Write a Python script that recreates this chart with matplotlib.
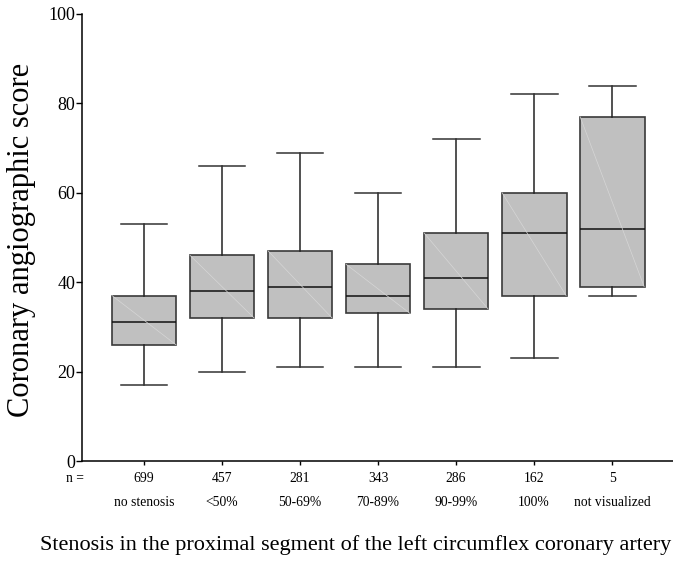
import matplotlib.pyplot as plt
import matplotlib.transforms as mtransforms

plt.rcParams['font.family'] = ['Liberation Serif', 'DejaVu Serif']

# box statistics: whisker low, Q1, median, Q3, whisker high
categories = ['no stenosis', '<50%', '50-69%', '70-89%', '90-99%', '100%', 'not visualized']
counts = ['699', '457', '281', '343', '286', '162', '5']
whislo = [17, 20, 21, 21, 21, 23, 37]
q1 = [26, 32, 32, 33, 34, 37, 39]
med = [31, 38, 39, 37, 41, 51, 52]
q3 = [37, 46, 47, 44, 51, 60, 77]
whishi = [53, 66, 69, 60, 72, 82, 84]
yticks = [0, 20, 40, 60, 80, 100]

W, H = 673, 563
fig = plt.figure(figsize=(W / 100, H / 100), dpi=100)
ax = fig.add_axes([82 / W, 1 - 461 / H, 1 - 82 / W, (461 - 14) / H])

stats = []
for i in range(len(categories)):
    stats.append({'whislo': whislo[i], 'q1': q1[i], 'med': med[i],
                  'q3': q3[i], 'whishi': whishi[i], 'fliers': []})

pos = list(range(1, len(categories) + 1))
ax.bxp(stats, positions=pos, widths=0.83, patch_artist=True, showfliers=False,
       boxprops=dict(facecolor='#c0c0c0', edgecolor='#3a3a3a', linewidth=1.2),
       medianprops=dict(color='#111111', linewidth=1.1),
       whiskerprops=dict(color='#222222', linewidth=1.1),
       capprops=dict(color='#333333', linewidth=1.1), capwidths=0.6)

# faint diagonal artefact across each box
for p, lo, hi in zip(pos, q1, q3):
    ax.plot([p - 0.41, p + 0.41], [hi, lo], color='#d6d6d6', lw=0.5, zorder=3)

ax.set_xlim(0.205, 7.78)
ax.set_ylim(0, 100)
ax.spines['top'].set_visible(False)
ax.spines['right'].set_visible(False)
ax.spines['left'].set_linewidth(1.1)
ax.spines['bottom'].set_linewidth(1.1)
ax.set_yticks(yticks)
ax.tick_params(axis='y', direction='out', length=4, width=1, labelsize=13, pad=1)
ax.set_xticks(pos)
ax.set_xticklabels([])
ax.tick_params(axis='x', direction='out', length=3, width=1)

trans = mtransforms.blended_transform_factory(ax.transData, fig.transFigure)
for p, n, c in zip(pos, counts, categories):
    ax.text(p, 1 - 478 / H, n, transform=trans, ha='center', va='center', fontsize=9.8)
    ax.text(p, 1 - 502 / H, c, transform=trans, ha='center', va='center', fontsize=9.8)
fig.text(75 / W, 1 - 478 / H, 'n =', ha='center', va='center', fontsize=9.8)

fig.text(22 / W, 1 - 240 / H, 'Coronary angiographic score', rotation=90,
         ha='center', va='center', fontsize=22)
fig.text(40 / W, 1 - 545 / H,
         'Stenosis in the proximal segment of the left circumflex coronary artery',
         ha='left', va='center', fontsize=16)

fig.savefig('out.png', dpi=100)
